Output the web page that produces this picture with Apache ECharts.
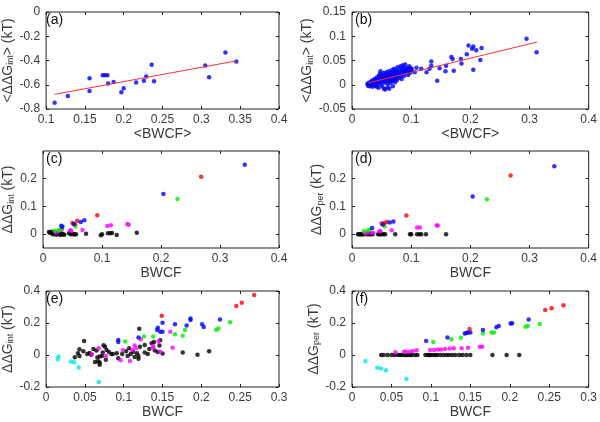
<!DOCTYPE html>
<html><head><meta charset="utf-8">
<script src="https://cdn.jsdelivr.net/npm/echarts@6/dist/echarts.min.js"></script>
<style>html,body{margin:0;padding:0;background:#fff}#c{width:600px;height:422px}</style>
</head><body><div id="c"></div>
<script>
// ---------- Panel (a) ----------
const aPts = [[0.111,-0.748],[0.128,-0.692],[0.156,-0.546],[0.156,-0.651],[0.173,-0.521],[0.176,-0.521],[0.179,-0.521],[0.180,-0.590],[0.187,-0.577],[0.197,-0.662],[0.200,-0.629],[0.216,-0.582],[0.226,-0.566],[0.229,-0.532],[0.236,-0.436],[0.239,-0.571],[0.305,-0.441],[0.310,-0.538],[0.331,-0.334],[0.345,-0.408]];
const aFit = [[0.111,-0.679],[0.346,-0.402]];
// ---------- Panel (b) ----------
const bPts = [
[0.026,0.002],[0.027,-0.002],[0.028,0.001],[0.029,0.004],[0.030,0.0],[0.030,-0.003],[0.031,0.003],[0.032,0.006],[0.033,-0.001],[0.033,0.002],[0.034,0.009],[0.035,0.001],[0.035,-0.004],[0.036,0.004],
[0.037,0.007],[0.038,0.012],[0.038,-0.002],[0.039,0.003],[0.040,0.010],[0.040,0.0],[0.041,0.006],[0.042,0.015],[0.042,-0.004],[0.043,0.008],[0.044,0.012],[0.044,0.002],[0.045,0.018],[0.045,-0.006],
[0.046,0.010],[0.047,0.005],[0.047,0.022],[0.048,0.013],[0.048,0.028],[0.049,0.002],[0.050,0.016],[0.050,0.009],[0.051,-0.003],[0.051,0.020],[0.052,0.012],[0.053,0.006],[0.053,0.024],[0.054,0.015],[0.054,-0.008],[0.055,0.010],[0.055,0.019],
[0.056,-0.010],[0.056,0.004],[0.057,0.014],[0.057,0.022],[0.058,0.008],[0.058,0.026],[0.059,0.017],[0.060,-0.005],[0.060,0.012],[0.061,0.020],[0.061,0.002],[0.062,0.016],[0.062,0.028],[0.063,0.009],[0.063,-0.008],[0.064,0.022],[0.064,0.013],[0.065,0.018],[0.065,0.004],
[0.066,0.025],[0.066,0.011],[0.067,0.030],[0.067,0.016],[0.068,0.007],[0.068,0.021],[0.069,-0.003],[0.069,0.014],[0.070,0.024],[0.070,0.019],[0.071,0.010],[0.071,0.033],[0.072,0.016],[0.072,0.027],[0.073,0.005],[0.073,0.021],[0.074,0.013],[0.074,0.030],[0.075,0.018],[0.075,0.024],
[0.076,0.010],[0.077,0.027],[0.077,0.036],[0.078,0.018],[0.079,0.022],[0.080,0.014],[0.080,0.031],[0.081,0.025],[0.082,0.038],[0.082,0.019],[0.083,0.028],[0.084,0.012],[0.085,0.033],[0.085,0.022],[0.086,0.040],[0.087,0.027],[0.088,0.018],[0.088,0.035],[0.089,0.030],[0.090,0.024],[0.090,0.042],
[0.092,0.031],[0.093,0.026],[0.094,0.035],[0.095,0.020],[0.096,0.030],[0.097,0.038],[0.098,0.025],[0.099,0.033],[0.100,0.028],
[0.101,0.033],[0.106,0.026],[0.109,0.035],[0.117,0.033],[0.126,0.026],[0.131,0.033],[0.134,0.039],[0.134,0.048],[0.144,0.008],[0.148,0.034],[0.158,0.028],[0.159,0.039],[0.168,0.057],[0.170,0.053],[0.172,0.029],[0.184,0.053],[0.185,0.044],[0.194,0.063],[0.197,0.081],[0.203,0.074],[0.205,0.079],[0.205,0.031],[0.210,0.071],[0.217,0.051],[0.219,0.076],[0.295,0.095],[0.312,0.067]
];
const bFit = [[0.028,0.004],[0.313,0.088]];
// ---------- Panel (c) ΔΔG_int ----------
const cBlue = [[0.342,0.250],[0.204,0.145],[0.031,0.030],[0.033,0.027],[0.052,0.037],[0.064,0.044],[0.070,0.050]];
const cRed = [[0.268,0.207],[0.092,0.068],[0.050,0.040],[0.054,0.036],[0.058,0.048]];
const cGreen = [[0.228,0.127],[0.055,0.028],[0.030,0.018],[0.020,0.012],[0.027,0.015]];
const cMagenta = [[0.143,0.037],[0.145,0.034],[0.115,0.032],[0.109,0.029],[0.067,0.015],[0.046,0.014],[0.048,0.012],[0.026,0.010],[0.022,0.006],[0.032,0.018]];
const cBlack = [[0.010,0.008],[0.012,0.005],[0.014,0.009],[0.015,0.002],[0.017,0.0],[0.018,0.006],[0.020,0.004],[0.022,-0.002],[0.025,0.001],[0.028,0.0],[0.030,-0.003],[0.032,0.002],[0.034,0.0],[0.036,-0.002],[0.044,0.003],[0.047,0.0],[0.050,0.001],[0.053,-0.001],[0.056,0.0],[0.073,0.001],[0.098,-0.004],[0.100,0.0],[0.110,0.003],[0.114,0.003],[0.117,0.004],[0.125,-0.003],[0.159,0.005]];
// ---------- Panel (d) ΔΔG_per ----------
const dBlue = [[0.342,0.245],[0.204,0.136],[0.034,0.022],[0.052,0.035],[0.064,0.042],[0.070,0.046]];
const dRed = [[0.268,0.212],[0.092,0.067],[0.050,0.038],[0.055,0.040],[0.059,0.044]];
const dGreen = [[0.228,0.126],[0.055,0.028],[0.030,0.016],[0.020,0.010],[0.027,0.014]];
const dMagenta = [[0.143,0.031],[0.145,0.031],[0.110,0.024],[0.115,0.024],[0.067,0.014],[0.046,0.010],[0.048,0.010],[0.022,0.004],[0.026,0.005],[0.032,0.006],[0.036,0.004]];
const dBlackX = [0.010,0.012,0.014,0.016,0.018,0.020,0.025,0.028,0.030,0.032,0.035,0.044,0.046,0.048,0.050,0.053,0.056,0.073,0.098,0.100,0.110,0.114,0.117,0.125,0.159];
// ---------- Panel (e) ΔΔG_int ----------
const eRed = [[0.268,0.375],[0.252,0.327],[0.245,0.307],[0.149,0.246]];
const eGreen = [[0.237,0.204],[0.222,0.166],[0.219,0.158],[0.179,0.156],[0.176,0.121],[0.166,0.129],[0.138,0.116],[0.126,0.116],[0.102,0.085]];
const eBlue = [[0.224,0.222],[0.201,0.192],[0.203,0.175],[0.186,0.218],[0.186,0.228],[0.181,0.185],[0.166,0.192],[0.150,0.201],[0.150,0.146],[0.147,0.146],[0.144,0.170],[0.143,0.156],[0.119,0.110],[0.093,0.093],[0.093,0.081]];
const eMagenta = [[0.160,0.146],[0.145,0.085],[0.147,0.021],[0.163,0.045],[0.122,0.098],[0.138,0.057],[0.138,0.044],[0.114,0.059],[0.116,0.042],[0.111,0.032],[0.099,0.030],[0.096,-0.033],[0.108,-0.037],[0.068,0.042],[0.077,-0.006],[0.059,0.005]];
const eCyan = [[0.016,-0.010],[0.015,-0.026],[0.032,-0.041],[0.036,-0.045],[0.042,-0.078],[0.068,-0.169]];
const eBlack = [[0.049,0.088],[0.043,0.036],[0.043,-0.006],[0.037,-0.014],[0.041,0.011],[0.048,0.023],[0.053,0.007],[0.056,0.013],[0.058,0.001],[0.061,0.038],[0.065,0.028],[0.066,-0.016],[0.067,-0.039],[0.069,-0.047],[0.069,-0.061],[0.063,-0.043],[0.072,-0.006],[0.073,0.015],[0.074,0.061],[0.076,0.052],[0.078,0.032],[0.081,0.019],[0.084,0.007],[0.069,-0.010],[0.091,0.011],[0.093,-0.020],[0.098,0.007],[0.103,0.023],[0.105,-0.006],[0.107,0.042],[0.109,0.007],[0.112,0.021],[0.114,-0.012],[0.117,0.011],[0.119,-0.024],[0.119,-0.006],[0.121,0.052],[0.120,0.164],[0.127,0.015],[0.127,0.063],[0.131,0.007],[0.133,0.038],[0.136,0.073],[0.139,0.081],[0.140,0.028],[0.144,0.019],[0.146,0.059],[0.147,0.092],[0.150,0.009],[0.176,0.015],[0.195,0.001],[0.210,0.023],[0.077,-0.030],[0.086,0.007]];
// ---------- Panel (f) ΔΔG_per ----------
const fRed = [[0.268,0.311],[0.253,0.292],[0.245,0.282],[0.149,0.162]];
const fGreen = [[0.238,0.193],[0.223,0.181],[0.220,0.176],[0.180,0.141],[0.177,0.141],[0.166,0.135],[0.138,0.108],[0.126,0.098],[0.103,0.081]];
const fBlue = [[0.224,0.222],[0.201,0.197],[0.203,0.199],[0.186,0.181],[0.183,0.174],[0.166,0.156],[0.150,0.141],[0.147,0.141],[0.143,0.135],[0.145,0.138],[0.121,0.110],[0.094,0.088]];
const fMagenta = [[0.162,0.052],[0.165,0.052],[0.147,0.046],[0.139,0.042],[0.129,0.042],[0.124,0.040],[0.118,0.038],[0.113,0.035],[0.109,0.035],[0.104,0.032],[0.099,0.032],[0.082,0.030],[0.077,0.025],[0.073,0.021],[0.068,0.021],[0.066,0.021],[0.055,0.017]];
const fCyan = [[0.017,-0.037],[0.032,-0.080],[0.037,-0.085],[0.043,-0.095],[0.069,-0.150]];
const fBlackX = [0.037,0.040,0.045,0.050,0.054,0.058,0.061,0.063,0.066,0.068,0.070,0.072,0.074,0.076,0.080,0.083,0.093,0.096,0.098,0.100,0.103,0.106,0.108,0.112,0.116,0.120,0.123,0.127,0.131,0.136,0.140,0.145,0.150,0.178,0.196,0.212];

// ---------- axis settings ----------
const panelLabels = ['(a)','(b)','(c)','(d)','(e)','(f)'];
const xNames = ['<BWCF>','<BWCF>','BWCF','BWCF','BWCF','BWCF'];
const yNames = ['<ΔΔG{s|int}> (kT)','<ΔΔG{s|int}> (kT)','ΔΔG{s|int} (kT)','ΔΔG{s|per} (kT)','ΔΔG{s|int} (kT)','ΔΔG{s|per} (kT)'];
const xRanges = [[0.1,0.4,0.05],[0,0.4,0.1],[0,0.4,0.1],[0,0.4,0.1],[0,0.3,0.05],[0,0.3,0.05]];
const yRanges = [[-0.8,0,0.2],[-0.05,0.15,0.05],[-0.05,0.3,null],[-0.05,0.3,null],[-0.2,0.4,0.2],[-0.2,0.4,0.2]];
const yCustomTicks = [0,0.1,0.2];

const grids = [
  {left:43, top:12, width:236, height:97},
  {left:352, top:12, width:237, height:97},
  {left:43, top:151, width:236, height:97},
  {left:352, top:151, width:237, height:97},
  {left:43, top:291, width:236, height:96},
  {left:352, top:291, width:237, height:96}
];

const FONT = 'Liberation Sans, Arial, sans-serif';
const TXT = '#3a3a3a';
const xAxes = [], yAxes = [], titles = [];
grids.forEach((g, i) => {
  g.show = true; g.borderColor = '#222'; g.borderWidth = 1; g.backgroundColor = '#fff';
  const xr = xRanges[i], yr = yRanges[i];
  const tick = () => ({inside: true, length: 3, lineStyle: {color: '#222'}});
  const line = {show: false, onZero: false};
  xAxes.push({
    type: 'value', gridIndex: i, min: xr[0], max: xr[1], interval: xr[2], position: 'bottom',
    axisLine: line, splitLine: {show: false}, axisTick: tick(),
    axisLabel: {fontSize: 12, color: TXT, fontFamily: FONT, margin: 5, showMinLabel: true, showMaxLabel: true},
    name: xNames[i], nameLocation: 'middle', nameGap: 14,
    nameTextStyle: {fontSize: 14, color: TXT, fontFamily: FONT, verticalAlign: 'top'}
  });
  xAxes.push({
    type: 'value', gridIndex: i, min: xr[0], max: xr[1], interval: xr[2], position: 'top',
    axisLine: line, splitLine: {show: false}, axisTick: tick(), axisLabel: {show: false}
  });
  const yl = {
    type: 'value', gridIndex: i, min: yr[0], max: yr[1], position: 'left',
    axisLine: line, splitLine: {show: false}, axisTick: tick(),
    axisLabel: {fontSize: 12, color: TXT, fontFamily: FONT, margin: 6, showMinLabel: true, showMaxLabel: true},
    name: yNames[i], nameLocation: 'middle', nameGap: 27,
    nameTextStyle: {fontSize: 14, color: TXT, fontFamily: FONT,
      rich: {s: {fontSize: 9, color: TXT, fontFamily: FONT, verticalAlign: 'bottom', padding: [6,0,0,0]}}}
  };
  const yr2 = {
    type: 'value', gridIndex: i, min: yr[0], max: yr[1], position: 'right',
    axisLine: line, splitLine: {show: false}, axisTick: tick(), axisLabel: {show: false}
  };
  if (yr[2] !== null) { yl.interval = yr[2]; yr2.interval = yr[2]; }
  else {
    yl.axisLabel.customValues = yCustomTicks; yl.axisTick.customValues = yCustomTicks;
    yr2.axisTick.customValues = yCustomTicks; yr2.axisLabel.customValues = yCustomTicks;
  }
  yAxes.push(yl);
  yAxes.push(yr2);
  titles.push({text: panelLabels[i], left: g.left + 3, top: g.top + 1, padding: 0,
    textStyle: {fontSize: 14, fontWeight: 'normal', color: '#111', fontFamily: FONT}});
});

const COLORS = {blue:'#0000ff', red:'#ff0000', green:'#00ee00', magenta:'#ff00ff', cyan:'#00e8e8', black:'#000000'};
const series = [];
function scatter(panel, data, color) {
  series.push({type:'scatter', xAxisIndex: panel*2, yAxisIndex: panel*2, data: data,
    symbol:'circle', symbolSize: 4.5, itemStyle:{color: color}, silent:true, animation:false});
}
function fit(panel, data) {
  series.push({type:'line', xAxisIndex: panel*2, yAxisIndex: panel*2, data: data, showSymbol:false,
    lineStyle:{color:'#ff3030', width:1}, silent:true, animation:false, z: 3});
}
scatter(0, aPts, COLORS.blue); fit(0, aFit);
scatter(1, bPts, COLORS.blue); fit(1, bFit);
scatter(2, cBlack, COLORS.black); scatter(2, cMagenta, COLORS.magenta); scatter(2, cGreen, COLORS.green); scatter(2, cRed, COLORS.red); scatter(2, cBlue, COLORS.blue);
scatter(3, dBlackX.map(x => [x, 0]), COLORS.black); scatter(3, dMagenta, COLORS.magenta); scatter(3, dGreen, COLORS.green); scatter(3, dRed, COLORS.red); scatter(3, dBlue, COLORS.blue);
scatter(4, eBlack, COLORS.black); scatter(4, eCyan, COLORS.cyan); scatter(4, eMagenta, COLORS.magenta); scatter(4, eGreen, COLORS.green); scatter(4, eBlue, COLORS.blue); scatter(4, eRed, COLORS.red);
scatter(5, fBlackX.map(x => [x, 0]), COLORS.black); scatter(5, fCyan, COLORS.cyan); scatter(5, fMagenta, COLORS.magenta); scatter(5, fGreen, COLORS.green); scatter(5, fBlue, COLORS.blue); scatter(5, fRed, COLORS.red);

const chart = echarts.init(document.getElementById('c'), null, {renderer:'canvas'});
chart.setOption({
  animation: false,
  backgroundColor: '#fff',
  title: titles,
  grid: grids,
  xAxis: xAxes,
  yAxis: yAxes,
  series: series
});
</script></body></html>
